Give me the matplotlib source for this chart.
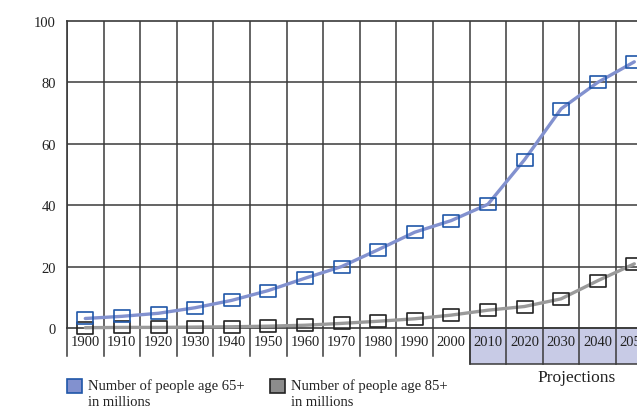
import numpy as np
import matplotlib.pyplot as plt
from matplotlib.patches import Rectangle
from matplotlib.path import Path

plt.rcParams['font.family'] = ['Liberation Serif', 'DejaVu Serif']

years = ['1900', '1910', '1920', '1930', '1940', '1950', '1960', '1970',
         '1980', '1990', '2000', '2010', '2020', '2030', '2040', '2050']
age65 = [3.1, 3.8, 4.8, 6.6, 9.0, 12.2, 16.2, 20.0, 25.5, 31.2, 35.0,
         40.3, 54.8, 71.4, 80.0, 86.7]
age85 = [0.1, 0.2, 0.2, 0.3, 0.4, 0.6, 0.9, 1.5, 2.2, 3.0, 4.2,
         5.8, 7.0, 9.5, 15.4, 20.9]
first_projection = '2010'

W, H = 637, 410
fig = plt.figure(figsize=(W / 100, H / 100), dpi=100)

# axes run past the right edge of the figure, like the cropped original
colw = 36.6
left, top, bottom = 67, 22, 329
right = left + colw * len(years)
ax = fig.add_axes([left / W, 1 - bottom / H, (right - left) / W, (bottom - top) / H])

x = np.arange(len(years))
ax.set_xlim(-0.5, len(years) - 0.5)
ax.set_ylim(0, 100)

pxu = (bottom - top) / 100.0  # pixels per unit

gridc = '#3a3a3a'
for k in range(len(years) + 1):
    ax.axvline(k - 0.5, color=gridc, lw=1.1, zorder=1)
for v in [20, 40, 60, 80]:
    ax.axhline(v, color=gridc, lw=1.1, zorder=1)
for s in ax.spines.values():
    s.set_color(gridc)
    s.set_linewidth(1.2)

ax.set_xticks([])
ax.set_yticks([0, 20, 40, 60, 80, 100])
ax.set_yticklabels(['0', '20', '40', '60', '80', '100'], fontsize=10.5, color='#222222')
ax.tick_params(axis='y', length=0, pad=8)

# label row below the axis
ip = years.index(first_projection)
cell_h = 28 / pxu
proj_h = 36 / pxu
ax.add_patch(Rectangle((ip - 0.5, -proj_h), len(years) - ip + 1, proj_h,
                       facecolor='#c8cbe6', edgecolor=gridc, lw=1.1,
                       clip_on=False, zorder=0))
for k in range(len(years) + 1):
    h = proj_h if k >= ip else cell_h
    ax.plot([k - 0.5, k - 0.5], [0, -h], color=gridc, lw=1.1, clip_on=False, zorder=1)
for i, yr in enumerate(years):
    ax.text(i, -14 / pxu, yr, ha='center', va='center', fontsize=10.5,
            color='#222222', clip_on=False)
ax.text(13.43, -49 / pxu, 'Projections', ha='center', va='center',
        fontsize=12.5, color='#222222', clip_on=False)

# rectangular hollow markers
box = Path([(-1, -0.75), (1, -0.75), (1, 0.75), (-1, 0.75), (-1, -0.75)],
           [Path.MOVETO, Path.LINETO, Path.LINETO, Path.LINETO, Path.CLOSEPOLY])

ax.plot(x, age85, color='#9a9a9a', lw=2.4, zorder=3, clip_on=False,
        solid_joinstyle='round', solid_capstyle='round')
ax.plot(x, age85, ls='none', marker=box, ms=11.5, mfc='none', mec='#222222',
        mew=1.2, zorder=4, clip_on=False)
ax.plot(x, age65, color='#8291cf', lw=2.4, zorder=3,
        solid_joinstyle='round', solid_capstyle='round')
ax.plot(x, age65, ls='none', marker=box, ms=11.5, mfc='none', mec='#1f56a8',
        mew=1.2, zorder=4)

# legend
def legend_item(px, fc, ec, label):
    fig.add_artist(Rectangle((px / W, 1 - 394 / H), 15 / W, 14 / H,
                             facecolor=fc, edgecolor=ec, lw=1.2,
                             transform=fig.transFigure))
    fig.text((px + 21) / W, 1 - 386 / H, label[0], ha='left', va='center',
             fontsize=10.5, color='#222222')
    fig.text((px + 21) / W, 1 - 403 / H, label[1], ha='left', va='center',
             fontsize=10.5, color='#222222')

legend_item(67, '#8291cf', '#1f56a8', ['Number of people age 65+', 'in millions'])
legend_item(270, '#8c8c8c', '#222222', ['Number of people age 85+', 'in millions'])

fig.savefig('out.png', dpi=100)
